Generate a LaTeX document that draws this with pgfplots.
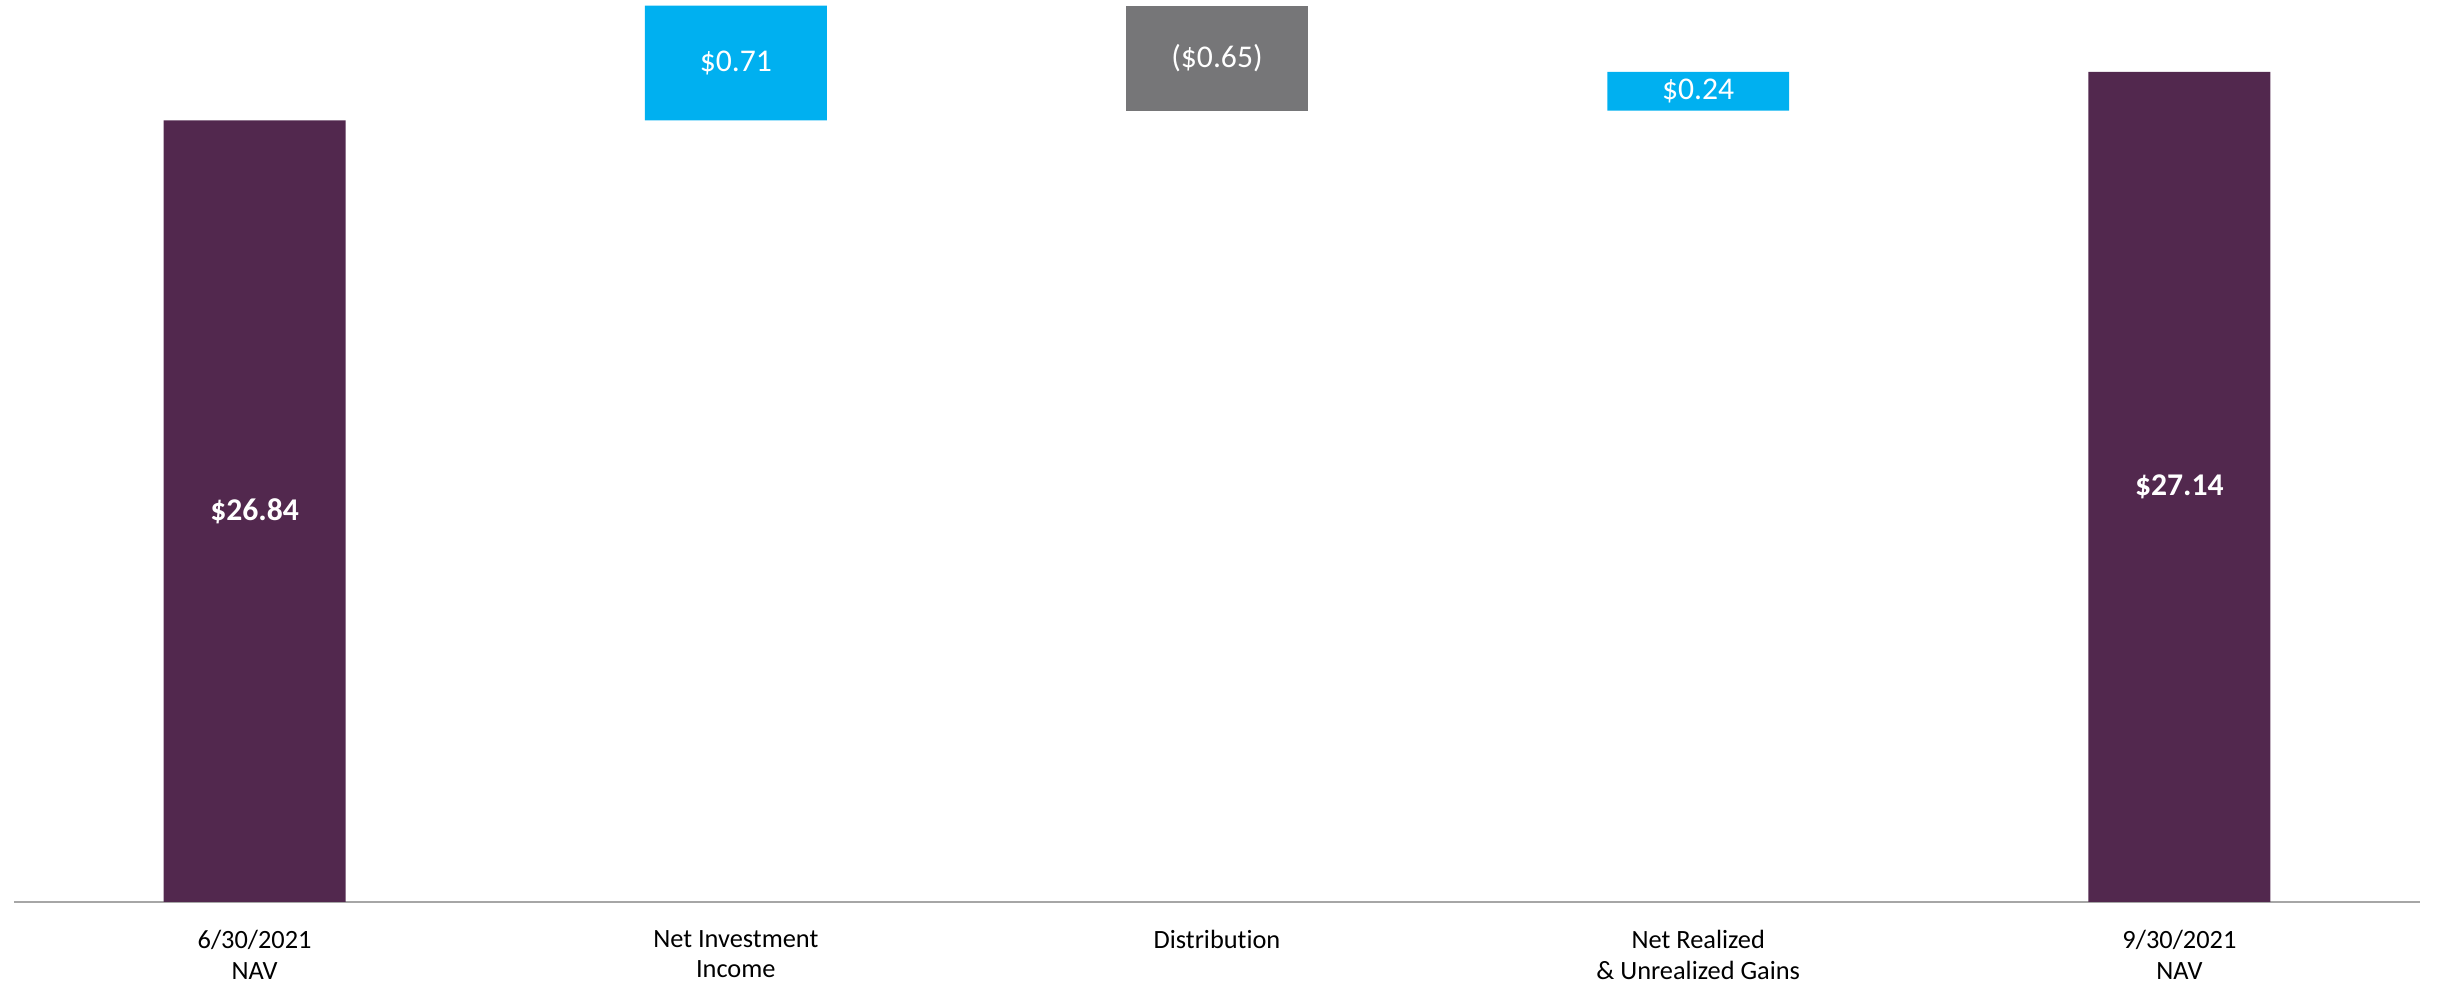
\documentclass[border=0pt]{standalone}
\usepackage{pgfplots}
\pgfplotsset{compat=1.18}
\usepackage{fontspec}
\setmainfont{Carlito}[Ligatures=NoCommon]

\definecolor{navpurple}{RGB}{82,40,78}
\definecolor{gaincyan}{RGB}{0,176,240}
\definecolor{distgray}{RGB}{118,118,120}

\tikzset{barlabel/.style={text=white, font=\fontsize{9}{10}\selectfont}}

\begin{document}
\begin{tikzpicture}
    \useasboundingbox (-1.4mm,-8.1mm) rectangle (242.6mm,90.2mm);
    \begin{axis}[
        scale only axis,
        width = 240.6mm,
        height = 90.2mm,
        ybar stacked,
        bar width = 0.378,
        xmin = -0.5, xmax = 4.5,
        ymin = 22, ymax = 27.585,
        hide y axis,
        axis x line* = bottom,
        x axis line style = {draw=black!35, line width=0.15mm, -},
        major tick length = 0pt,
        xtick = {0,1,2,3,4},
        xticklabels = {{6/30/2021\\NAV}, {Net Investment\\Income}, {Distribution},
                       {Net Realized\\\& Unrealized Gains}, {9/30/2021\\NAV}},
        xticklabel style = {align=center, anchor=north, inner sep=0pt, yshift=-2.8mm,
                            font=\fontsize{7.5}{8.55}\selectfont},
    ]
        % invisible base of the floating bars
        \addplot[draw=none, fill=none]
            coordinates {(0,0) (1,26.84) (2,26.90) (3,26.90) (4,0)};
        % NAV
        \addplot[draw=none, fill=navpurple]
            coordinates {(0,26.84) (1,0) (2,0) (3,0) (4,27.14)};
        % increases
        \addplot[draw=none, fill=gaincyan]
            coordinates {(0,0) (1,0.71) (2,0) (3,0.24) (4,0)};
        % distribution
        \addplot[draw=none, fill=distgray]
            coordinates {(0,0) (1,0) (2,0.65) (3,0) (4,0)};

        % bar centres, labelled after the axis so that they sit above the bars
        \coordinate (l0) at (axis cs:0,24.42);
        \coordinate (l1) at (axis cs:1,27.195);
        \coordinate (l2) at (axis cs:2,27.225);
        \coordinate (l3) at (axis cs:3,27.02);
        \coordinate (l4) at (axis cs:4,24.57);
    \end{axis}
    \node[barlabel] at (l0) {\bfseries\$26.84};
    \node[barlabel] at (l1) {\$0.71};
    \node[barlabel] at (l2) {(\$0.65)};
    \node[barlabel] at (l3) {\$0.24};
    \node[barlabel] at (l4) {\bfseries\$27.14};
\end{tikzpicture}
\end{document}
